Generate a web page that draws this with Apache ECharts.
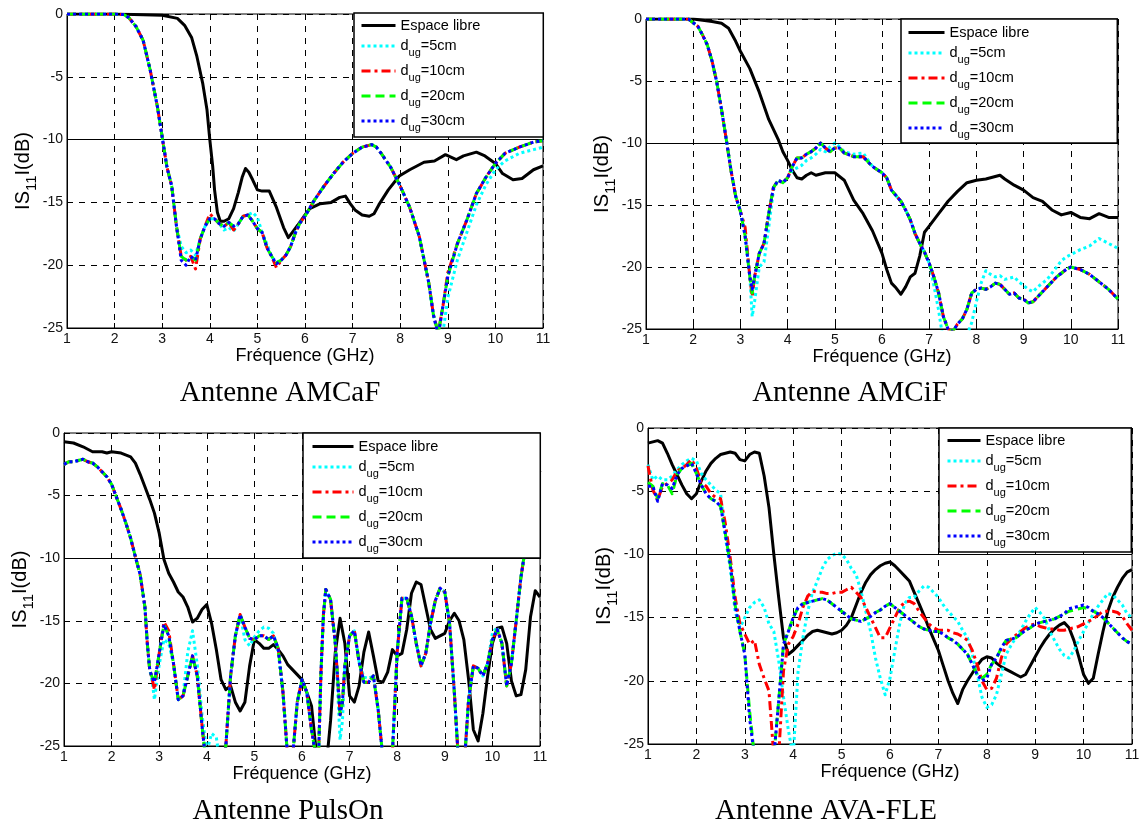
<!DOCTYPE html>
<html><head><meta charset="utf-8">
<script src="https://cdn.jsdelivr.net/npm/echarts/dist/echarts.min.js"></script>
<style>html,body{margin:0;padding:0;background:#fff}#c{width:1144px;height:828px}</style>
</head><body><div id="c"></div>
<script>
// ---------------- DATA ----------------
const SERIES_NAMES = ['Espace libre', 'd_ug=5cm', 'd_ug=10cm', 'd_ug=20cm', 'd_ug=30cm'];
const PANEL_TITLES = ['Antenne AMCaF', 'Antenne AMCiF', 'Antenne PulsOn', 'Antenne AVA-FLE'];
const X_NAME = 'Fréquence (GHz)';
const Y_NAME = ['IS', '11', 'I(dB)'];

// Panel 1 : AMCaF
const P1_FREE_X = [1,2,3,3.32,3.47,3.62,3.73,3.85,3.94,4.0,4.06,4.1,4.16,4.22,4.3,4.4,4.5,4.6,4.68,4.75,4.82,4.9,5.0,5.1,5.25,5.4,5.55,5.65,5.75,5.85,6.0,6.1,6.32,6.55,6.73,6.85,6.95,7.05,7.2,7.35,7.45,7.55,7.75,7.98,8.2,8.5,8.72,8.95,9.18,9.33,9.6,9.78,10.0,10.15,10.37,10.56,10.8,11];
const P1_FREE_Y = [0,0,-0.1,-0.35,-0.9,-1.9,-3.4,-5.5,-7.6,-10,-12.1,-14,-15.8,-16.5,-16.5,-16.3,-15.5,-14.2,-13,-12.3,-12.6,-13.2,-14,-14.1,-14.1,-15.4,-17,-17.8,-17.3,-16.8,-16.0,-15.5,-15.1,-15,-14.6,-14.5,-15.1,-15.6,-16,-16.1,-15.9,-15.2,-14.0,-12.9,-12.4,-11.8,-11.7,-11.2,-11.6,-11.3,-11.0,-11.3,-11.9,-12.7,-13.2,-13.1,-12.4,-12.1];
const P1_UG_X = [1,1.5,2,2.2,2.3,2.45,2.6,2.75,2.9,3.0,3.1,3.2,3.3,3.4,3.5,3.6,3.7,3.8,3.9,4.0,4.1,4.2,4.3,4.4,4.5,4.6,4.7,4.8,4.9,5.0,5.1,5.2,5.3,5.4,5.5,5.6,5.7,5.8,5.9,6.0,6.2,6.4,6.6,6.8,7.0,7.2,7.4,7.5,7.6,7.8,8.0,8.2,8.4,8.6,8.7,8.8,8.9,9.0,9.2,9.4,9.6,9.8,10.0,10.2,10.5,10.8,11];
const P1_Y5 = [0,0,0,-0.05,-0.3,-1,-2.1,-4.5,-7.4,-9.8,
 -12.2,-13.7,-16.9,-18.5,-19.0,-18.8,-19.2,-17.9,-16.9,-16.3,
 -16.3,-16.7,-17.2,-17.0,-17.3,-16.7,-16.1,-16,-15.8,-16.2,
 -17.4,-18.3,-19.3,-19.8,-19.6,-19.2,-18.5,-17.4,-16.6,-16.1,
 -14.8,-13.7,-12.7,-11.8,-11.1,-10.6,-10.4,-10.6,-11.1,-12.2,
 -13.7,-15.4,-17.7,-21.4,-24,-25.5,-25.3,-22.6,-19.6,-17.4,
 -15.2,-13.6,-12.4,-11.7,-11.1,-10.8,-10.6];
const P1_Y10 = [0,0,0,-0.05,-0.3,-1,-2.1,-4.5,-7.4,-9.8,
 -12.2,-13.7,-16.9,-19.3,-19.6,-19.3,-20.3,-17.9,-16.9,-15.9,
 -16.3,-16.7,-16.9,-16.6,-17.2,-16.7,-16.1,-16,-16.5,-17.1,
 -17.4,-18.6,-19.3,-20.2,-19.6,-19.2,-18.5,-17.4,-16.6,-16.1,
 -14.8,-13.7,-12.7,-11.8,-11.1,-10.6,-10.4,-10.6,-11.1,-12.2,
 -13.7,-15.4,-17.7,-21.4,-24,-25.4,-23.2,-20.6,-18.3,-16.4,
 -14.3,-13,-11.9,-11.1,-10.6,-10.2,-10.1];
const P1_Y20 = [0,0,0,-0.05,-0.3,-1,-2.1,-4.5,-7.4,-9.8,
 -12.2,-13.7,-16.9,-19.3,-19.6,-19.3,-19.6,-17.9,-16.9,-16.3,
 -16.3,-16.7,-16.9,-16.6,-16.9,-16.7,-16.1,-16,-16.5,-17.1,
 -17.4,-18.6,-19.3,-19.8,-19.6,-19.2,-18.5,-17.4,-16.6,-16.1,
 -14.8,-13.7,-12.7,-11.8,-11.1,-10.6,-10.4,-10.6,-11.1,-12.2,
 -13.7,-15.4,-17.7,-21.4,-24,-25.4,-23.2,-20.9,-18.3,-16.4,
 -14.3,-13,-11.9,-11.1,-10.6,-10.2,-10.1];
const P1_Y30 = [0,0,0,-0.05,-0.3,-1,-2.1,-4.5,-7.4,-9.8,
 -12.2,-13.7,-16.9,-19.6,-20.0,-19.3,-19.6,-17.9,-16.9,-16.3,
 -16.3,-16.7,-16.9,-16.6,-16.9,-16.7,-16.1,-16,-16.5,-17.1,
 -17.4,-18.6,-19.3,-19.9,-19.6,-19.2,-18.5,-17.4,-16.6,-16.1,
 -14.8,-13.7,-12.7,-11.8,-11.1,-10.6,-10.4,-10.6,-11.1,-12.2,
 -13.7,-15.4,-17.7,-21.4,-24,-25.6,-23.2,-20.9,-18.3,-16.4,
 -14.3,-13,-11.9,-11.1,-10.6,-10.2,-10.1];

// Panel 2 : AMCiF
const P2_FREE_X = [1,1.5,2,2.2,2.4,2.6,2.75,2.9,3.0,3.2,3.4,3.6,3.8,3.9,4.0,4.1,4.2,4.3,4.4,4.5,4.6,4.7,4.8,4.9,5.0,5.2,5.4,5.6,5.8,6.0,6.1,6.2,6.3,6.4,6.5,6.6,6.7,6.8,6.9,7.0,7.2,7.4,7.6,7.8,8.0,8.2,8.4,8.5,8.6,8.8,9.0,9.2,9.4,9.6,9.8,10.0,10.2,10.4,10.6,10.8,11];
const P2_FREE_Y = [0,0,0,-0.1,-0.2,-0.35,-0.75,-1.8,-2.6,-4.0,-5.9,-8.1,-9.7,-10.7,-11.4,-12.2,-12.8,-12.9,-12.6,-12.4,-12.6,-12.5,-12.4,-12.4,-12.4,-13,-14.6,-15.7,-17.1,-18.9,-20.2,-21.3,-21.7,-22.2,-21.6,-20.8,-20.5,-19.1,-17.2,-16.7,-15.7,-14.7,-13.9,-13.2,-13,-12.9,-12.7,-12.6,-12.9,-13.4,-13.8,-14.4,-14.7,-15.4,-15.8,-15.6,-16,-16.1,-15.7,-16,-16];
const P2_UG_X = [1,1.5,1.9,2.0,2.1,2.2,2.3,2.4,2.5,2.6,2.7,2.8,2.9,3.0,3.1,3.2,3.25,3.3,3.4,3.5,3.6,3.7,3.8,3.9,4.0,4.1,4.2,4.3,4.4,4.5,4.6,4.7,4.8,4.9,5.0,5.1,5.2,5.4,5.6,5.8,6.0,6.1,6.2,6.4,6.5,6.6,6.7,6.8,6.9,7.0,7.1,7.2,7.3,7.4,7.5,7.6,7.7,7.8,7.9,8.0,8.1,8.2,8.3,8.4,8.5,8.6,8.7,8.8,8.9,9.0,9.1,9.2,9.3,9.4,9.5,9.6,9.7,9.8,9.9,10.0,10.1,10.2,10.4,10.6,10.8,11];
const P2_Y5 = [0,0,0,-0.3,-0.6,-1.3,-2.1,-3.4,-5.1,-7.3,
 -9.7,-12.2,-14.3,-15.5,-17.5,-20.8,-24.0,-22.8,-20.0,-19.6,
 -16.8,-13.8,-13,-13.2,-12.8,-12.2,-12.0,-11.8,-11.4,-11.2,
 -10.9,-10.5,-10.7,-10.3,-10.0,-10.3,-10.7,-10.9,-10.8,-11.9,
 -12.4,-12.8,-13.8,-14.7,-15.4,-16.2,-17.3,-18.1,-18.8,-19.7,
 -21.5,-23.5,-26,-27,-27,-27,-26,-25.5,-24.5,-22.8,
 -21.3,-20.3,-20.6,-20.8,-20.7,-21,-20.9,-20.8,-21.2,-21.5,
 -21.8,-22,-21.6,-21.3,-21,-20.5,-20,-19.5,-19.2,-19,
 -18.8,-18.6,-18.3,-17.7,-18.1,-18.5];
const P2_Y10 = [0,0,0,-0.3,-0.6,-1.3,-2.1,-3.4,-5.1,-7.3,
 -9.7,-12.2,-14.3,-15.5,-16.8,-20.8,-22.4,-20.8,-18.9,-18.1,
 -15.7,-13.6,-13,-13.2,-12.8,-11.9,-11.2,-11.2,-10.9,-10.7,
 -10.4,-10,-10.4,-10.7,-10.4,-10.4,-10.8,-11.1,-11.1,-11.9,
 -12.4,-12.8,-13.8,-14.7,-15.4,-16.2,-17.3,-18.1,-18.8,-19.7,
 -20.8,-22.1,-24,-25,-25.2,-24.6,-24.2,-23.4,-22.1,-21.8,
 -21.7,-21.8,-21.6,-21.3,-21.4,-21.8,-22.2,-22.1,-22.5,-22.6,
 -22.9,-22.8,-22.4,-22,-21.6,-21.2,-20.8,-20.5,-20.2,-20,
 -20.1,-20.2,-20.6,-21.2,-21.8,-22.6];
const P2_Y20 = [0,0,0,-0.3,-0.6,-1.3,-2.1,-3.4,-5.1,-7.3,
 -9.7,-12.2,-14.3,-15.5,-17.5,-20.8,-22.1,-20.8,-18.9,-18.1,
 -15.7,-13.6,-13,-13.2,-12.8,-11.9,-11.2,-11.2,-10.9,-10.7,
 -10.4,-10,-10.4,-10.7,-10.4,-10.4,-10.8,-11.1,-11.1,-11.9,
 -12.4,-12.8,-13.8,-14.7,-15.4,-16.2,-17.3,-18.1,-18.8,-19.7,
 -20.8,-22.1,-24,-25,-25.2,-24.6,-24.2,-23.4,-22.1,-21.8,
 -21.7,-21.8,-21.6,-21.3,-21.4,-21.8,-22.2,-22.1,-22.5,-22.6,
 -22.9,-22.8,-22.4,-22,-21.6,-21.2,-20.8,-20.5,-20.2,-20,
 -20.1,-20.2,-20.6,-21.2,-21.8,-22.6];
const P2_Y30 = [0,0,0,-0.3,-0.6,-1.3,-2.1,-3.4,-5.1,-7.3,
 -9.7,-12.2,-14.3,-15.5,-17.5,-20.8,-21.8,-20.8,-18.9,-18.1,
 -15.7,-13.6,-13,-13.2,-12.8,-11.9,-11.2,-11.2,-10.9,-10.7,
 -10.4,-10,-10.4,-10.7,-10.4,-10.4,-10.8,-11.1,-11.1,-11.9,
 -12.4,-12.8,-13.8,-14.7,-15.4,-16.2,-17.3,-18.1,-18.8,-19.7,
 -20.8,-22.1,-24,-25,-25.2,-24.6,-24.2,-23.4,-22.1,-21.8,
 -21.7,-21.8,-21.6,-21.3,-21.4,-21.8,-22.2,-22.1,-22.5,-22.6,
 -22.9,-22.8,-22.4,-22,-21.6,-21.2,-20.8,-20.5,-20.2,-20,
 -20.1,-20.2,-20.6,-21.2,-21.8,-22.6];

// Panel 3 : PulsOn
const P3_FREE_X = [1.0,1.2,1.4,1.5,1.6,1.8,1.9,2.0,2.2,2.4,
 2.5,2.6,2.7,2.8,2.9,3.0,3.1,3.2,3.3,3.4,3.5,3.6,3.7,3.8,3.9,4.0,4.1,4.2,4.3,4.4,
 4.5,4.6,4.7,4.8,4.9,5.0,5.1,5.2,5.3,5.4,5.5,5.6,5.7,5.8,5.9,6.0,6.1,6.2,6.3,6.4,
 6.5,6.6,6.7,6.8,6.9,7.0,7.1,7.2,7.3,7.4,7.5,7.6,7.7,7.8,7.9,8.0,8.1,8.2,8.3,8.4,
 8.5,8.6,8.7,8.8,8.9,9.0,9.1,9.2,9.3,9.4,9.5,9.6,9.7,9.8,9.9,10.0,10.1,10.2,10.3,10.4,
 10.5,10.6,10.7,10.8,10.9,11.0];
const P3_FREE_Y = [-0.7,-0.8,-1.1,-1.3,-1.5,-1.5,-1.6,-1.5,-1.6,-1.9,
 -2.4,-3.3,-4.3,-5.3,-6.4,-8,-10.1,-11.2,-11.9,-12.7,
 -13.1,-13.9,-15.1,-14.8,-14.1,-13.7,-15.2,-17.3,-19.7,-20.5,
 -20.2,-21.5,-22.2,-21.5,-18.6,-16.5,-16.8,-17.2,-17.2,-16.9,
 -17.3,-17.8,-18.5,-18.9,-19.3,-19.7,-20.7,-21.8,-25.5,-28,
 -27,-23,-17.5,-14.8,-16.8,-21,-21.5,-20.2,-17.5,-15.9,
 -17.8,-19.8,-19.9,-19.1,-17.3,-17.8,-17.6,-15.7,-12.8,-11.9,
 -12.1,-13.9,-15.7,-16.4,-16.2,-16,-15,-14.4,-15,-16.5,
 -19.7,-23.7,-24.6,-22.4,-19.4,-16.8,-15.6,-15.5,-16.8,-19.8,
 -21,-20.9,-18.9,-14.7,-12.6,-13.1];
const P3_UG_X = [1.0,1.1,1.2,1.3,1.4,1.5,1.6,1.7,1.8,1.9,2.0,2.1,2.2,2.3,2.4,2.5,2.6,2.7,2.75,2.8,2.85,
 2.9,3.0,3.1,3.2,3.3,3.4,3.5,3.6,3.7,3.8,3.9,4.0,4.1,4.2,4.3,4.4,4.5,4.6,4.7,4.8,4.9,5.0,5.1,5.2,5.3,5.4,5.5,5.6,5.7,5.8,5.9,6.0,6.1,6.2,6.3,
 6.35,6.4,6.45,6.5,6.6,6.7,6.8,6.85,
 6.9,7.0,7.1,7.2,7.3,7.4,7.5,7.6,7.7,7.8,7.9,8.0,8.1,8.2,8.3,8.4,8.5,8.6,8.7,8.8,8.9,9.0,9.1,9.2,9.3,9.4,9.5,9.6,9.7,9.8,9.9,10.0,10.1,10.2,10.3,10.4,10.5,10.6,10.7,10.8,10.9,11.0];
const P3_Y5 = [-2.5,-2.3,-2.3,-2.2,-2.1,-2.3,-2.4,-2.7,-3.1,-3.5,-4.1,-5.1,-6.1,-7.2,-8.4,-9.9,-11.3,-13.9,-16.8,-18.9,-19.8,
 -21.3,-18.5,-16.5,-16.8,-18.4,-21.3,-21,-17.5,-15.8,-18.5,-22.5,-25.5,-24,-24.3,-27,-25,-19.4,-16.2,-14.5,-16.5,-17,-16.3,-15.8,-15.5,-15.6,-16,-17.5,-20.7,-26,-26,-21.5,-19.7,-20.7,-23.7,-26,
 -25.5,-19,-14.5,-12.5,-13.3,-16.8,-24.5,-23,
 -18.6,-16.2,-15.8,-18.3,-19.5,-19.6,-19.4,-22.1,-26,-27,-25.5,-17.5,-13.2,-13.2,-14.6,-16.8,-18.6,-17.6,-15.2,-13.4,-12.4,-12.7,-15.2,-20.7,-27,-27,-21.3,-18.6,-18.8,-19.4,-18.4,-16.0,-15.5,-16.8,-20.2,-18.4,-15,-11.5,-9,-6,-4,-3];
const P3_Y10 = [-2.5,-2.3,-2.3,-2.2,-2.1,-2.3,-2.4,-2.7,-3.1,-3.5,-4.1,-5.1,-6.1,-7.2,-8.4,-9.9,-11.3,-13.9,-16.8,-18.9,-19.6,
 -20.5,-17.6,-15.1,-15.8,-18.4,-21.3,-21,-19.4,-17.8,-19.4,-23.4,-27,-28,-28,-28,-25,-19.4,-16.2,-14.5,-15.5,-16.4,-16.5,-16.2,-16.2,-16.5,-16.2,-17.2,-20.7,-26,-26,-21.5,-19.7,-20.7,-23.7,-26,
 -25.5,-19,-14.5,-12.5,-13.3,-16.8,-22.5,-21.5,
 -18.6,-16.2,-15.8,-18.3,-19.9,-19.9,-19.4,-22.1,-26,-27,-25.5,-17.5,-13.2,-13.2,-14.6,-16.8,-18.6,-17.6,-15.2,-13.4,-12.4,-12.7,-15.2,-20.7,-27,-27,-21.3,-18.6,-18.8,-19.4,-18.4,-16.5,-15.7,-16.8,-20.2,-18.4,-15,-11.5,-9,-6,-4,-3];
const P3_Y20 = [-2.5,-2.3,-2.3,-2.2,-2.1,-2.3,-2.4,-2.7,-3.1,-3.5,-4.1,-5.1,-6.1,-7.2,-8.4,-9.9,-11.3,-13.9,-16.8,-18.9,-19.5,
 -19.9,-17.6,-15.3,-16.2,-18.4,-21.3,-21,-19.4,-17.8,-19.4,-23.4,-27,-28,-28,-28,-25,-19.4,-16.2,-14.5,-15.5,-16.4,-16.5,-16.2,-16.2,-16.5,-16.2,-17.2,-20.7,-26,-26,-21.5,-19.7,-20.7,-23.7,-26,
 -25.5,-19,-14.5,-12.5,-13.3,-16.8,-22.5,-21.5,
 -18.6,-16.2,-15.8,-18.3,-19.9,-19.9,-19.4,-22.1,-26,-27,-25.5,-17.5,-13.2,-13.2,-14.6,-16.8,-18.6,-17.6,-15.2,-13.4,-12.4,-12.7,-15.2,-20.7,-27,-27,-21.3,-18.6,-18.8,-19.4,-18.4,-16.5,-15.7,-16.8,-20.2,-18.4,-15,-11.5,-9,-6,-4,-3];
const P3_Y30 = [-2.5,-2.3,-2.3,-2.2,-2.1,-2.3,-2.4,-2.7,-3.1,-3.5,-4.1,-5.1,-6.1,-7.2,-8.4,-9.9,-11.3,-13.9,-16.8,-18.9,-19.5,
 -19.9,-17.6,-15.3,-16.2,-18.4,-21.3,-21,-19.4,-17.8,-19.4,-23.4,-27,-28,-28,-28,-25,-19.4,-16.2,-14.5,-15.5,-16.4,-16.5,-16.2,-16.2,-16.5,-16.2,-17.2,-20.7,-26,-26,-21.5,-19.7,-20.7,-23.7,-26,
 -25.5,-19,-14.5,-12.5,-13.3,-16.8,-22.5,-21.5,
 -18.6,-16.2,-15.8,-18.3,-19.9,-19.9,-19.4,-22.1,-26,-27,-25.5,-17.5,-13.2,-13.2,-14.6,-16.8,-18.6,-17.6,-15.2,-13.4,-12.4,-12.7,-15.2,-20.7,-27,-27,-21.3,-18.6,-18.8,-19.4,-18.4,-16.5,-15.7,-16.8,-20.2,-18.4,-15,-11.5,-9,-6,-4,-3];

// Panel 4 : AVA-FLE  (all series share the same frequency list)
const P4_X = [1.0,1.1,1.2,1.3,1.4,1.5,1.6,1.7,1.8,1.9,2.0,2.1,2.2,2.3,2.4,2.5,2.6,2.7,2.8,2.9,
 3.0,3.1,3.2,3.3,3.4,3.5,3.6,3.7,3.8,3.9,4.0,4.1,4.2,4.3,4.4,4.5,4.6,4.7,4.8,4.9,
 5.0,5.1,5.2,5.3,5.4,5.5,5.6,5.7,5.8,5.9,6.0,6.1,6.2,6.3,6.4,6.5,6.6,6.7,6.8,6.9,
 7.0,7.1,7.2,7.3,7.4,7.5,7.6,7.7,7.8,7.9,8.0,8.1,8.2,8.3,8.4,8.5,8.6,8.7,8.8,8.9,
 9.0,9.1,9.2,9.3,9.4,9.5,9.6,9.7,9.8,9.9,10.0,10.1,10.2,10.3,10.4,10.5,10.6,10.7,10.8,10.9,11.0];
const P4_FREE = [-1.2,-1.1,-1.0,-1.2,-2.0,-2.9,-3.7,-4.5,-5.2,-5.6,
 -5.2,-4.2,-3.4,-2.8,-2.4,-2.1,-2.0,-1.9,-2.0,-2.5,
 -2.6,-2.1,-1.9,-2.0,-3.8,-6.3,-10,-13.4,-16.6,-17.9,
 -17.6,-17.2,-16.8,-16.4,-16.1,-16,-16.1,-16.2,-16.3,-16.2,
 -16,-15.6,-15,-14,-13,-12.2,-11.6,-11.2,-10.9,-10.7,
 -10.6,-10.9,-11.3,-11.7,-12.1,-13,-13.9,-14.8,-15.8,-16.7,
 -17.6,-18.8,-20,-21,-21.8,-20.7,-20,-19.4,-18.8,-18.3,
 -18.1,-18.2,-18.6,-18.9,-19.1,-19.3,-19.5,-19.7,-19.5,-18.8,
 -18.1,-17.4,-16.8,-16.3,-15.9,-15.6,-15.4,-15.8,-16.8,-18.1,
 -19.5,-20.2,-19.8,-17.9,-16.1,-14.5,-13.4,-12.6,-11.9,-11.4,-11.2];
const P4_Y5 = [-2.9,-4.1,-3.8,-4.1,-4.1,-3.8,-3.3,-2.9,-2.6,-2.4,
 -2.6,-3.6,-4.1,-4.5,-4.9,-5.2,-8.7,-11.1,-14.5,-15.8,
 -15.0,-14.2,-13.8,-13.6,-14.2,-15.5,-16.1,-18.4,-21.3,-23.9,
 -26,-19.3,-16.6,-14.5,-13,-12.1,-11.1,-10.4,-10.1,-9.9,
 -10,-10.4,-11.1,-11.6,-12.9,-14.5,-16.1,-18.2,-19.8,-21.1,
 -19.8,-17.6,-15.5,-13.9,-13.4,-13.4,-12.9,-12.5,-12.6,-13,
 -13.4,-14,-14.5,-14.9,-15.3,-16,-16.6,-17.9,-19.5,-21.3,
 -22.1,-21.9,-21.1,-19.5,-17.9,-17.2,-16.6,-16,-15.3,-14.7,
 -14.2,-14.6,-15.1,-16.1,-16.8,-17.5,-18,-18.2,-17.6,-16.8,
 -16.1,-15.4,-14.7,-14.1,-13.6,-13.1,-13.2,-13.6,-14,-14.7,-15];
const P4_Y10 = [-3.0,-4.9,-5.7,-4.6,-4.4,-4.1,-3.4,-3.2,-2.9,-2.5,
 -3.2,-4.3,-4.6,-5.2,-5.5,-5.6,-7.6,-10.3,-13.4,-15.5,
 -16.3,-17.1,-16.8,-18.7,-19.8,-20.8,-26,-26,-19.2,-17.1,
 -16.5,-15.5,-14.2,-13.3,-12.9,-13,-13,-13.1,-13.1,-13,
 -13,-12.8,-12.6,-13,-13.4,-14.2,-15,-15.8,-16.6,-16.6,
 -15.8,-15,-14.2,-13.8,-13.7,-13.9,-14.5,-15,-15.5,-15.8,
 -16,-16,-16,-16.2,-16.3,-16.5,-16.8,-17.6,-18.7,-20,
 -20.7,-20.6,-19.8,-18.2,-17.1,-16.7,-16.4,-16.1,-15.8,-15.6,
 -15.5,-15.7,-15.8,-15.9,-15.9,-16,-16,-15.9,-15.8,-15.7,
 -15.5,-15.3,-15.1,-14.8,-14.5,-14.5,-14.5,-14.6,-14.9,-15.5,-16];
const P4_Y20 = [-4.3,-4.6,-5.6,-4.4,-4.5,-5.2,-3.7,-3.2,-3.0,-2.8,
 -3.6,-4.5,-5.2,-5.6,-5.8,-6.2,-8.4,-10.8,-14,-16.1,
 -17.9,-22.4,-26,-27,-27,-27,-26,-21.6,-17.1,-16.1,
 -15,-14.2,-13.9,-13.8,-13.7,-13.6,-13.5,-13.6,-13.9,-14.2,
 -14.5,-14.8,-15.1,-15.2,-15.3,-15.1,-14.9,-14.6,-14.4,-14.1,
 -13.9,-14.2,-14.5,-14.8,-15.1,-15.4,-15.7,-15.9,-16,-16.1,
 -16.1,-16.3,-16.6,-16.8,-17.1,-17.5,-17.9,-18.7,-19.5,-19.8,
 -19.5,-18.7,-18.2,-17.4,-16.8,-16.7,-16.6,-16.3,-16,-15.8,
 -15.5,-15.4,-15.3,-15.2,-15.1,-14.9,-14.7,-14.5,-14.4,-14.3,
 -14.2,-14.3,-14.5,-14.7,-15,-15.4,-15.8,-16.2,-16.6,-16.9,-17.1];
const P4_Y30 = [-4.6,-4.6,-5.8,-4.4,-4.5,-4.8,-3.7,-3.2,-3.0,-2.8,
 -3.6,-4.5,-5.2,-5.6,-5.8,-6.2,-8.4,-10.8,-14,-16.1,
 -17.9,-23,-26,-27,-27,-27,-26,-21.6,-17.1,-16.1,
 -15,-14.2,-13.9,-13.8,-13.7,-13.6,-13.5,-13.6,-13.9,-14.2,
 -14.5,-14.8,-15.1,-15.2,-15.3,-15.1,-14.9,-14.6,-14.4,-14.1,
 -13.9,-14.2,-14.5,-14.8,-15.1,-15.4,-15.7,-15.9,-16,-16.1,
 -16.1,-16.3,-16.6,-16.8,-17.1,-17.5,-17.9,-18.7,-19.5,-20,
 -19.8,-18.7,-18.2,-17.4,-16.8,-16.7,-16.6,-16.3,-16,-15.8,
 -15.5,-15.4,-15.3,-15.2,-15.1,-14.9,-14.7,-14.3,-14.2,-14.1,
 -14.0,-14.2,-14.5,-14.7,-15,-15.4,-15.8,-16.2,-16.6,-16.9,-17.1];

const PANELS = [
  {free:[P1_FREE_X, P1_FREE_Y], ug:[[P1_UG_X,P1_Y5],[P1_UG_X,P1_Y10],[P1_UG_X,P1_Y20],[P1_UG_X,P1_Y30]]},
  {free:[P2_FREE_X, P2_FREE_Y], ug:[[P2_UG_X,P2_Y5],[P2_UG_X,P2_Y10],[P2_UG_X,P2_Y20],[P2_UG_X,P2_Y30]]},
  {free:[P3_FREE_X, P3_FREE_Y], ug:[[P3_UG_X,P3_Y5],[P3_UG_X,P3_Y10],[P3_UG_X,P3_Y20],[P3_UG_X,P3_Y30]]},
  {free:[P4_X, P4_FREE], ug:[[P4_X,P4_Y5],[P4_X,P4_Y10],[P4_X,P4_Y20],[P4_X,P4_Y30]]}
];

// ---------------- LAYOUT / STYLE ----------------
const SANS = '"Liberation Sans", Arial, sans-serif';
const SERIF = '"Liberation Serif", "Times New Roman", serif';
const GRIDS = [
  {left:67, top:14, width:476, height:314},
  {left:646, top:19, width:472, height:310},
  {left:64, top:433, width:476, height:313},
  {left:648, top:428, width:484, height:316}
];
const LEGENDS = [
  {left:354, top:13, itemWidth:34, padding:[5,63,4,6]},
  {left:901, top:19, itemWidth:36, padding:[6,88,3,6]},
  {left:303, top:433, itemWidth:41, padding:[6,102,4,8]},
  {left:939, top:428, itemWidth:33, padding:[5,66,4,7]}
];
const TITLE_POS = [[280,393],[850,393],[288,811],[826,811]];
const STYLES = [
  {color:'#000000', width:3, type:'solid'},
  {color:'#00FFFF', width:3, type:[3,3]},
  {color:'#FF0000', width:3, type:[9,4,3,4]},
  {color:'#00FF00', width:3, type:[9,5]},
  {color:'#0000FF', width:3, type:[3,3]}
];

function mkSeries(name, gi, xs, ys, k) {
  const s = STYLES[k];
  const o = {
    type:'line', name, xAxisIndex:gi, yAxisIndex:gi,
    data: xs.map((x,i)=>[x, ys[i]]),
    showSymbol:false, symbol:'none', clip:true, animation:false, silent:true,
    lineStyle:{color:s.color, width:s.width, type:s.type, cap:'butt', join:'round'},
    itemStyle:{color:s.color}, emphasis:{disabled:true}, z:2+k
  };
  if (k === 0) {
    o.markLine = {silent:true, symbol:['none','none'], animation:false, label:{show:false},
      lineStyle:{color:'#000', width:1, type:'solid'}, emphasis:{disabled:true}, data:[{yAxis:-10}]};
  }
  return o;
}

const grid = [], xAxis = [], yAxis = [], series = [], legend = [], graphic = [];
PANELS.forEach((p, gi) => {
  grid.push(Object.assign({show:true, borderColor:'#000', borderWidth:1, backgroundColor:'transparent', containLabel:false, outerBoundsMode:'none'}, GRIDS[gi]));
  xAxis.push({
    type:'value', gridIndex:gi, min:1, max:11, interval:1,
    name:X_NAME, nameLocation:'middle', nameGap:19,
    nameTextStyle:{fontFamily:SANS, fontSize:18, color:'#000'},
    axisLine:{show:true, onZero:false, lineStyle:{color:'#000', width:1}},
    axisTick:{show:true, inside:true, length:5, lineStyle:{color:'#000'}},
    axisLabel:{fontFamily:SANS, fontSize:14, color:'#111', margin:4, showMinLabel:true, showMaxLabel:true},
    splitLine:{show:true, lineStyle:{color:'#000', width:1, type:[6,6]}}
  });
  yAxis.push({
    type:'value', gridIndex:gi, min:-25, max:0, interval:5,
    name:'{a|'+Y_NAME[0]+'}{b|'+Y_NAME[1]+'}{a|'+Y_NAME[2]+'}', nameLocation:'middle', nameRotate:90, nameGap:30,
    nameTextStyle:{color:'#000', rich:{
      a:{fontFamily:SANS, fontSize:20, lineHeight:24, color:'#000'},
      b:{fontFamily:SANS, fontSize:15, lineHeight:15, padding:[15,0,0,0], color:'#000'}
    }},
    axisLine:{show:true, onZero:false, lineStyle:{color:'#000', width:1}},
    axisTick:{show:true, inside:true, length:5, lineStyle:{color:'#000'}},
    axisLabel:{fontFamily:SANS, fontSize:14, color:'#111', margin:4, showMinLabel:true, showMaxLabel:true},
    splitLine:{show:true, lineStyle:{color:'#000', width:1, type:[6,6]}}
  });
  series.push(mkSeries(SERIES_NAMES[0], gi, p.free[0], p.free[1], 0));
  p.ug.forEach((d, j) => series.push(mkSeries(SERIES_NAMES[j+1], gi, d[0], d[1], j+1)));
  const L = LEGENDS[gi];
  legend.push({
    orient:'vertical', left:L.left, top:L.top, itemWidth:L.itemWidth, itemHeight:8, itemGap:1,
    padding:L.padding, backgroundColor:'#fff', borderColor:'#000', borderWidth:1.5,
    selectedMode:false, data:SERIES_NAMES.slice(), z:20,
    itemStyle:{opacity:0, borderWidth:0},
    lineStyle:{width:3},
    formatter: function (name) {
      if (name.indexOf('d_ug') === 0) return '{n|d}{s|ug}{n|' + name.slice(4) + '}';
      return '{e|' + name + '}';
    },
    textStyle:{fontFamily:SANS, fontSize:14.5, color:'#000', rich:{
      e:{fontFamily:SANS, fontSize:14.5, lineHeight:8, color:'#000'},
      n:{fontFamily:SANS, fontSize:14.5, lineHeight:18, color:'#000'},
      s:{fontFamily:SANS, fontSize:11, lineHeight:11, padding:[13,0,0,0], color:'#000'}
    }}
  });
  graphic.push({type:'text', silent:true, x:TITLE_POS[gi][0], y:TITLE_POS[gi][1],
    style:{text:PANEL_TITLES[gi], fontFamily:SERIF, fontSize:29, fill:'#000',
      align:'center', verticalAlign:'middle', textAlign:'center', textVerticalAlign:'middle'}});
});

const chart = echarts.init(document.getElementById('c'), null, {renderer:'canvas'});
chart.setOption({animation:false, backgroundColor:'#fff', grid, xAxis, yAxis, series, legend, graphic});
</script></body></html>
